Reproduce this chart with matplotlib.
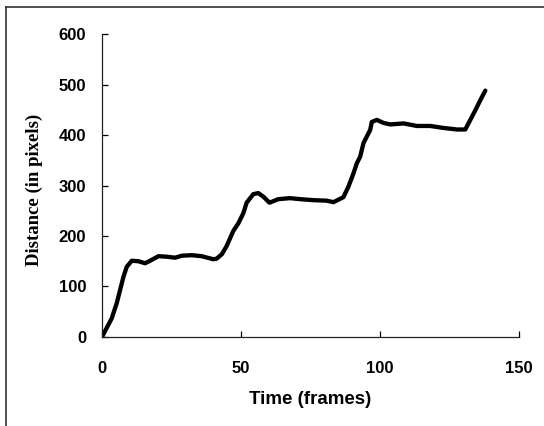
import matplotlib
matplotlib.use("Agg")
import matplotlib.pyplot as plt
from matplotlib.lines import Line2D

# distance travelled vs time
frames = [0, 3.5, 5.3, 7.7, 8.9, 10.7, 13.1, 15.5, 17.3, 20.3, 23.2, 26.3, 28.7, 32.3,
          35.8, 40, 41.2, 43.1, 44.8, 46, 47.2, 49, 50.8, 52, 54.4, 56.2, 58, 60.2,
          63.4, 67.6, 71.2, 76, 80.8, 83.2, 86.8, 88.6, 90.4, 91.6, 92.8, 94, 95.2,
          96.4, 97, 98.8, 101.2, 103.6, 108.4, 113.2, 118, 122.8, 127.6, 130.6,
          132.4, 134.2, 136, 137.8]
distance = [0, 37, 67, 119, 139, 151, 150, 146, 151, 160, 159, 157, 161, 162,
            160, 154, 155, 164, 180, 195, 210, 225, 245, 266, 283, 285, 278, 266,
            273, 275, 273, 271, 270, 267, 277, 298, 324, 344, 357, 384, 397,
            410, 426, 430, 424, 421, 423, 418, 418, 414, 411, 411,
            430, 449, 469, 488]

x_ticks = [0, 50, 100, 150]
y_ticks = [0, 100, 200, 300, 400, 500, 600]

fig = plt.figure(figsize=(5.44, 4.26), dpi=100)
ax = fig.add_axes([0.1875, 0.209, 0.767, 0.711])

ax.plot(frames, distance, color="black", linewidth=3.1, solid_capstyle="round", solid_joinstyle="round")

ax.set_xlim(0, 150)
ax.set_ylim(0, 600)
ax.set_xticks(x_ticks)
ax.set_yticks(y_ticks)
ax.spines["top"].set_visible(False)
ax.spines["right"].set_visible(False)
for s in ["left", "bottom"]:
    ax.spines[s].set_linewidth(0.9)
    ax.spines[s].set_color("#222222")

ax.tick_params(axis="y", direction="in", length=4, width=0.9, pad=11.5)
ax.tick_params(axis="x", direction="in", length=4, width=0.9, pad=17)
for lab in ax.get_xticklabels() + ax.get_yticklabels():
    lab.set_fontfamily("Liberation Sans")
    lab.set_fontweight("bold")
    lab.set_fontsize(12)

ax.set_xlabel("Time (frames)", fontfamily="Liberation Sans", fontweight="bold", fontsize=13.5)
ax.xaxis.set_label_coords(0.5, -0.178)
ax.set_ylabel("Distance (in pixels)", fontfamily="Liberation Serif", fontweight="bold", fontsize=13.5)
ax.yaxis.set_label_coords(-0.142, 0.485)

# scanned frame border (left and top edges visible)
fig.add_artist(Line2D([0.011, 0.011], [0, 0.984], transform=fig.transFigure, color="#333333", lw=1.2))
fig.add_artist(Line2D([0.011, 1.0], [0.984, 0.984], transform=fig.transFigure, color="#333333", lw=1.2))

fig.savefig("out.png", dpi=100)
